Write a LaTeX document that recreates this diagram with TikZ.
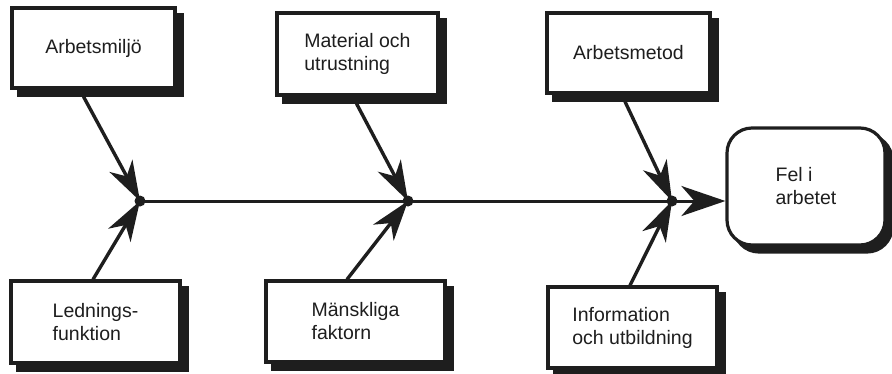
\documentclass[tikz,border=0pt]{standalone}
\usepackage{fontspec}
\setmainfont{Liberation Sans}
\usetikzlibrary{arrows.meta,shadows,calc}
\definecolor{ink}{HTML}{1E1E1E}
\begin{document}
\begin{tikzpicture}[x=1pt,y=-1pt,
  every node/.style={font=\fontsize{19.5}{23}\selectfont, text=ink, align=left},
  cause/.style={draw=ink, line width=3.2pt, fill=white, inner sep=0pt,
    copy shadow={shadow xshift=7pt, shadow yshift=-7pt, fill=ink, draw=ink}},
  effect/.style={cause, rounded corners=25pt},
  branch/.style={draw=ink, line width=3.4pt,
    -{Stealth[length=40pt,width=26pt,inset=12pt]}},
  spine/.style={draw=ink, line width=3pt,
    -{Stealth[length=44pt,width=30pt,inset=13pt]}},
  hub/.style={circle, fill=ink, inner sep=0pt, minimum size=11pt}]
\useasboundingbox (0,0) rectangle (892,373);

% junctions on the main line
\coordinate (j1) at (140,201);
\coordinate (j2) at (408,201);
\coordinate (j3) at (672,201);

% cause boxes
\node[cause, minimum width=163pt, minimum height=80pt] (b1) at (93.5,48) {Arbetsmiljö};
\node[cause, minimum width=161pt, minimum height=82pt] (b2) at (357.5,54) {Material och\\utrustning};
\node[cause, minimum width=163pt, minimum height=80pt] (b3) at (628.5,53) {Arbetsmetod};
\node[cause, minimum width=169pt, minimum height=82pt] (b4) at (95.5,322) {Lednings-\\funktion};
\node[cause, minimum width=179pt, minimum height=81pt] (b5) at (355.5,321.5) {Mänskliga\\faktorn};
\node[cause, minimum width=169pt, minimum height=81pt] (b6) at (632.5,327.5) {Information\\och utbildning};

% effect box
\node[effect, minimum width=158pt, minimum height=117pt] (eff) at (806,186.5) {Fel i\\arbetet};

% branches into the junctions
\draw[branch] ($(b1.south)+(-10,7)$) -- (j1);
\draw[branch] ($(b4.north)+(-2.5,0)$) -- (j1);
\draw[branch] ($(b2.south)+(-1,7)$) -- (j2);
\draw[branch] ($(b5.north)+(-8.5,0)$) -- (j2);
\draw[branch] ($(b3.south)+(-3.5,7)$) -- (j3);
\draw[branch] ($(b6.north)+(-2.5,0)$) -- (j3);

% main line to the effect
\draw[spine] (j1) -- (j3 -| eff.west);

\node[hub] (h1) at (j1) {};
\node[hub] (h2) at (j2) {};
\node[hub] (h3) at (j3) {};
\end{tikzpicture}
\end{document}
